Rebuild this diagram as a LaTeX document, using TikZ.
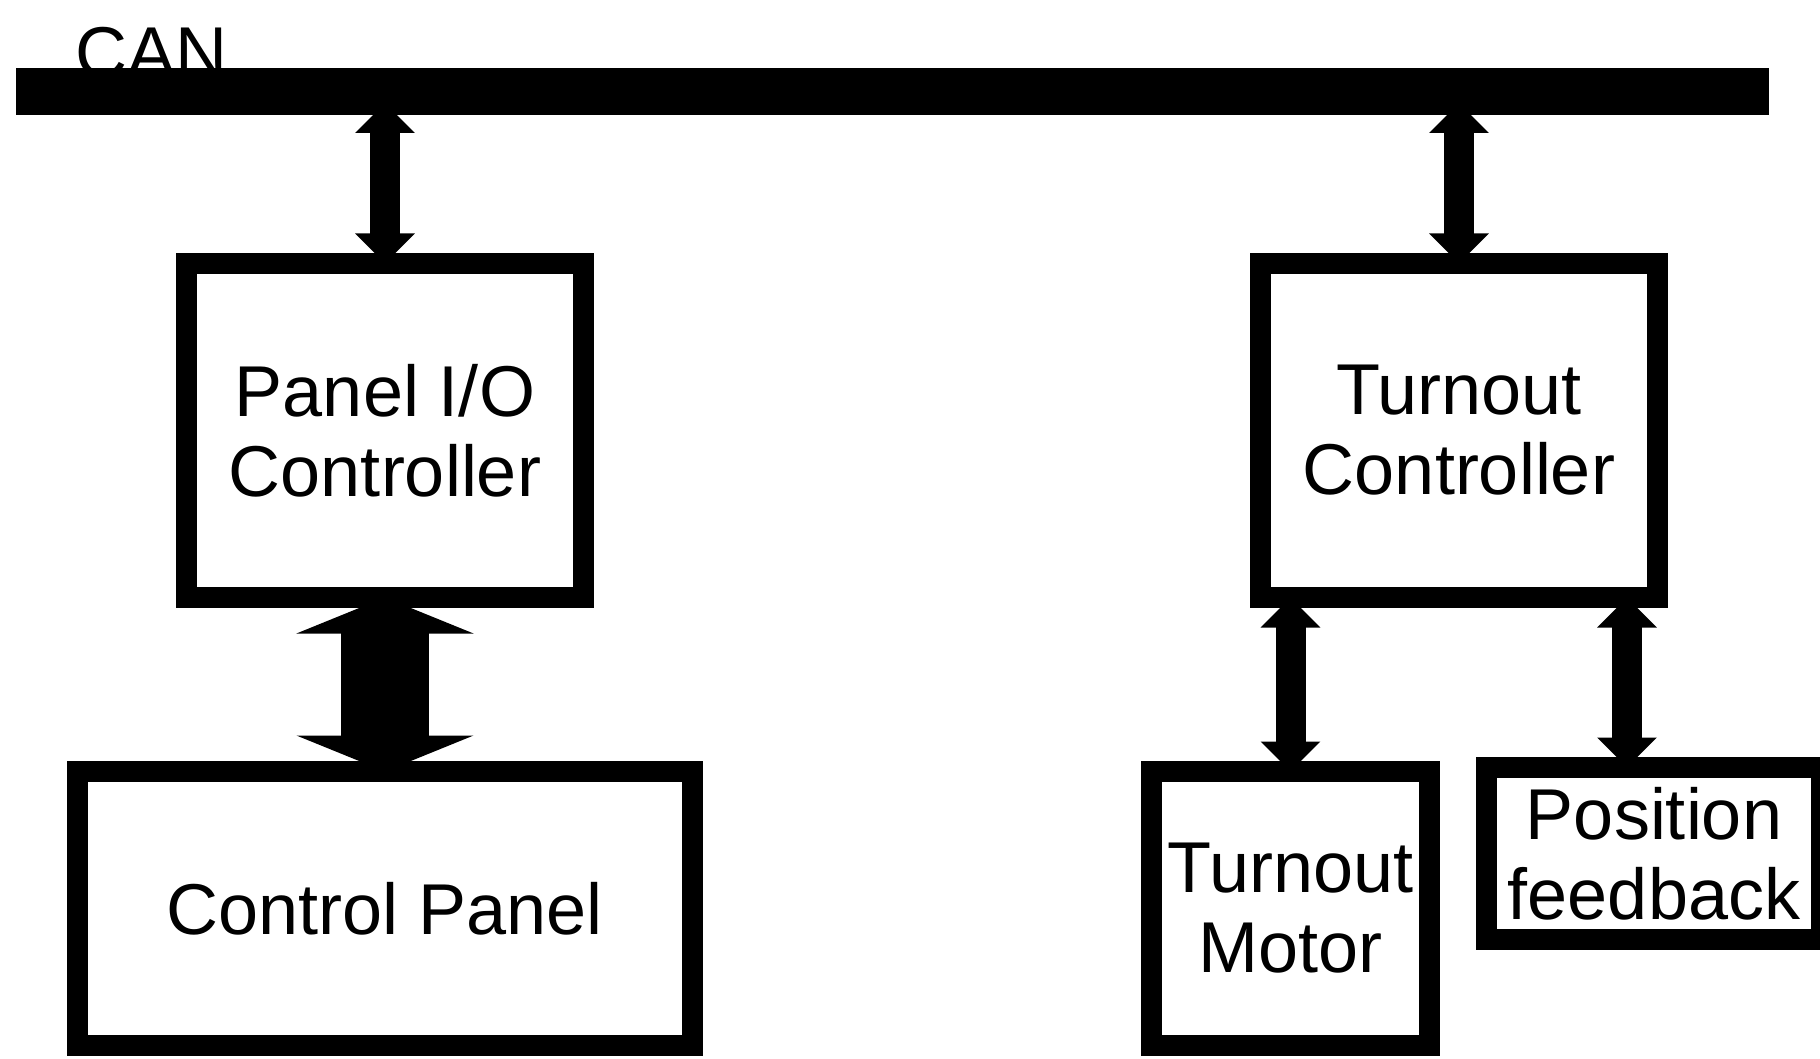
\documentclass[tikz,border=0pt]{standalone}
\usepackage{fontspec}
\setmainfont{Liberation Sans}
\usetikzlibrary{arrows.meta}
\begin{document}
\begin{tikzpicture}[x=0.5pt,y=-0.5pt,
  box/.style={draw=black, line width=10.5pt, fill=white, outer sep=0pt, inner sep=0pt,
    align=center, font=\fontsize{36}{40}\selectfont},
  thinarrow/.style={line width=15pt,
    {Triangle[length=15pt,width=29pt]}-{Triangle[length=15pt,width=29pt]}},
  fatarrow/.style={line width=44pt,
    {Triangle[length=18pt,width=88pt]}-{Triangle[length=18pt,width=88pt]}},
  lbl/.style={inner sep=0pt, font=\fontsize{36}{40}\selectfont}
]
\useasboundingbox (0,0) rectangle (1820,1059);
\clip (0,0) rectangle (1820,1059);

% CAN label and bus
\node[lbl, anchor=base west] (canlbl) at (75,78) {CAN};
\node[fill=black, inner sep=0pt, outer sep=0pt, minimum width=876.5pt, minimum height=23.5pt] (can) at (892.5,91.5) {};

% boxes
\node[box, minimum width=198.5pt, minimum height=167pt] (pio) at (385,430.5) {Panel I/O\\Controller};
\node[box, minimum width=198.5pt, minimum height=167pt] (tc) at (1459,430.5) {Turnout\\Controller};
\node[box, minimum width=307.5pt, minimum height=137pt] (cp) at (385,908.5) {Control Panel};
\node[box, minimum width=139pt, minimum height=137pt] (tm) at (1290.5,908.5) {Turnout\\Motor};
\node[box, minimum width=167.5pt, minimum height=86pt] (pf) at (1654,853.5) {Position\\feedback};

% connectors
\coordinate (pfx) at (1627,0);
\draw[thinarrow, shorten <=-6pt] (can.south -| pio.north) -- (pio.north);
\draw[thinarrow, shorten <=-6pt] (can.south -| tc.north) -- (tc.north);
\draw[fatarrow] (pio.south) -- (cp.north -| pio.south);
\draw[thinarrow] (tc.south -| tm.north) -- (tm.north);
\draw[thinarrow] (tc.south -| pfx) -- (pf.north -| pfx);
\end{tikzpicture}
\end{document}
